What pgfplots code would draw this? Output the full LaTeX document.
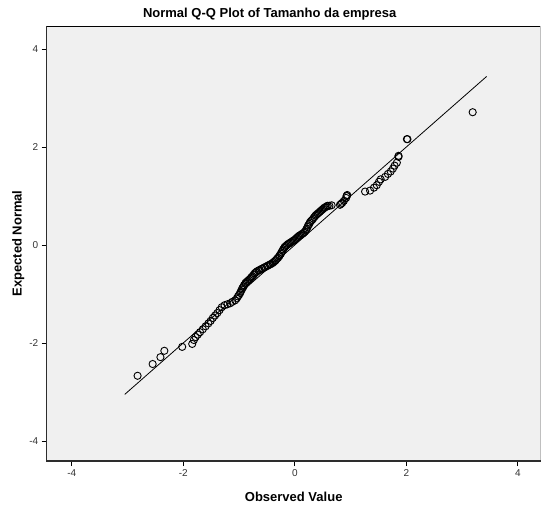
\documentclass[border=0pt]{standalone}
\usepackage{pgfplots}
\pgfplotsset{compat=1.18}
\usepackage{fontspec}
\setmainfont{Liberation Sans}

\definecolor{panelbg}{RGB}{240,240,240}
\definecolor{axisdark}{RGB}{45,45,45}

\begin{document}
\begin{tikzpicture}
\begin{axis}[
  name=ax,
  scale only axis,
  width=494pt,
  height=435pt,
  xmin=-4.45, xmax=4.41,
  ymin=-4.41, ymax=4.47,
  xtick={-4,-2,...,4},
  ytick={-4,-2,...,4},
  tick pos=left,
  tick align=outside,
  major tick length=5pt,
  tick style={black, line width=0.8pt},
  axis line style={draw=none},
  axis background/.style={fill=panelbg},
  /pgf/number format/assume math mode=true,
  ticklabel style={font=\fontsize{10}{12}\selectfont, text=black!80},
  title={\bfseries Normal Q-Q Plot of Tamanho da empresa},
  title style={font=\fontsize{13}{15}\selectfont, at={(0.5,1)}, anchor=south, xshift=-24pt, yshift=-4pt},
  xlabel={\bfseries Observed Value},
  ylabel={\bfseries Expected Normal},
  label style={font=\fontsize{13}{15}\selectfont},
  xlabel style={yshift=-9pt},
  ylabel style={yshift=-2pt},
  after end axis/.code={
    \draw[line width=0.8pt, black] (rel axis cs:0,1) -- (rel axis cs:1,1);
    \draw[line width=0.8pt, black!25] (rel axis cs:1,1) -- (rel axis cs:1,0);
    \draw[line width=1.6pt, axisdark] (rel axis cs:0,1) -- (rel axis cs:0,0) -- (rel axis cs:1,0);
  },
]
% reference line
\addplot[black, line width=0.8pt] coordinates {(-3.05,-3.05) (3.44,3.44)};
% observed vs expected normal
\addplot[only marks, mark=o, mark size=3.6pt, mark options={black, line width=0.9pt}] coordinates {
(-2.82,-2.67) (-2.55,-2.43) (-2.41,-2.29) (-2.34,-2.16) (-2.02,-2.08)
(-1.84,-2.02) (-1.81,-1.94) (-1.78,-1.88) (-1.74,-1.83) (-1.70,-1.78)
(-1.65,-1.72) (-1.60,-1.66) (-1.55,-1.60) (-1.51,-1.55) (-1.47,-1.49)
(-1.43,-1.44) (-1.39,-1.39) (-1.35,-1.33) (-1.31,-1.27) (-1.26,-1.23)
(-1.21,-1.21) (-1.16,-1.19) (-1.12,-1.16) (-1.07,-1.13) (-1.04,-1.09)
(-1.02,-1.05) (-1.00,-1.02) (-0.98,-0.98) (-0.97,-0.95) (-0.95,-0.91)
(-0.94,-0.88) (-0.92,-0.85) (-0.91,-0.82) (-0.89,-0.79) (-0.88,-0.77)
(-0.86,-0.75) (-0.84,-0.73) (-0.82,-0.71) (-0.80,-0.69) (-0.78,-0.66)
(-0.76,-0.64) (-0.74,-0.61) (-0.72,-0.58) (-0.70,-0.56) (-0.68,-0.54)
(-0.65,-0.52) (-0.63,-0.51) (-0.60,-0.49) (-0.58,-0.48) (-0.55,-0.46)
(-0.53,-0.45) (-0.50,-0.43) (-0.48,-0.42) (-0.45,-0.40) (-0.43,-0.39)
(-0.40,-0.37) (-0.38,-0.35) (-0.36,-0.33) (-0.34,-0.31) (-0.32,-0.28)
(-0.30,-0.26) (-0.28,-0.23) (-0.27,-0.21) (-0.25,-0.18) (-0.24,-0.15)
(-0.22,-0.12) (-0.21,-0.09) (-0.19,-0.06) (-0.18,-0.04) (-0.16,-0.02)
(-0.14,0.00) (-0.12,0.02) (-0.10,0.03) (-0.08,0.05) (-0.06,0.06)
(-0.04,0.08) (-0.02,0.09) (0.00,0.11) (0.02,0.13) (0.04,0.15)
(0.06,0.17) (0.08,0.19) (0.10,0.20) (0.12,0.22) (0.14,0.23)
(0.16,0.25) (0.18,0.27) (0.20,0.30) (0.21,0.33) (0.23,0.37)
(0.24,0.40) (0.26,0.43) (0.27,0.46) (0.29,0.49) (0.31,0.51)
(0.33,0.54) (0.35,0.57) (0.37,0.60) (0.39,0.62) (0.41,0.64)
(0.43,0.66) (0.45,0.68) (0.47,0.70) (0.49,0.72) (0.51,0.74)
(0.53,0.76) (0.55,0.77) (0.57,0.79) (0.59,0.80) (0.62,0.80)
(0.66,0.81) (0.81,0.82) (0.83,0.84) (0.85,0.86)
(0.88,0.90) (0.92,0.96) (0.93,1.00) (0.94,1.02) (0.93,1.00)
(1.26,1.09) (1.35,1.11) (1.42,1.17) (1.47,1.22) (1.51,1.29)
(1.54,1.34) (1.62,1.39) (1.67,1.45) (1.72,1.50) (1.76,1.56)
(1.79,1.62) (1.83,1.68) (1.86,1.82) (1.86,1.80) (2.01,2.16)
(2.02,2.16) (3.19,2.71)
};
\end{axis}
\pgfresetboundingbox
\path[use as bounding box] ([xshift=-46.7pt,yshift=-54pt]ax.south west) rectangle ([xshift=1.3pt,yshift=26pt]ax.north east);
\end{tikzpicture}
\end{document}
